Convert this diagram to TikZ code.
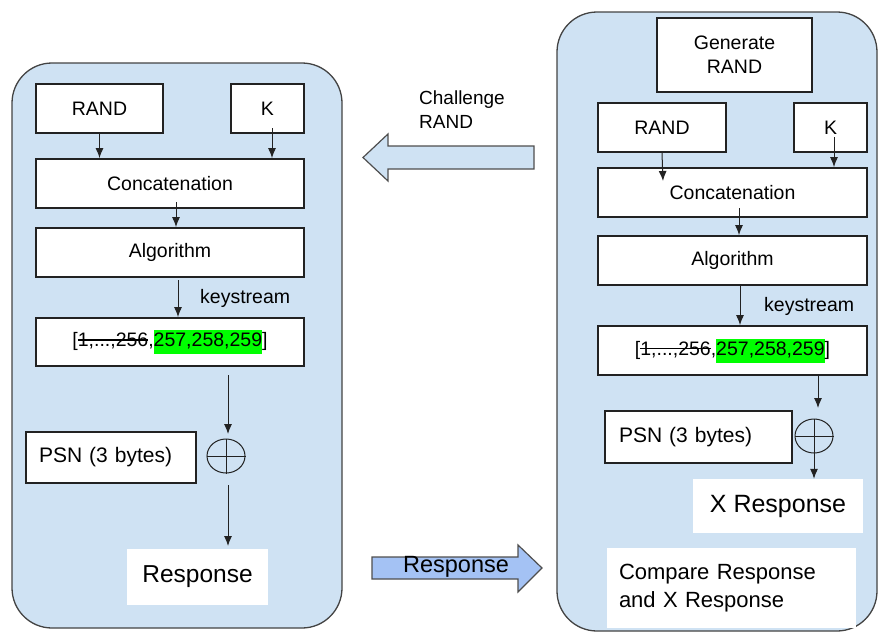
\documentclass[tikz,border=0pt]{standalone}
\usepackage{fontspec}
\setmainfont{Liberation Sans}
\usetikzlibrary{arrows.meta,shapes.geometric}
\definecolor{panelblue}{HTML}{CFE2F3}
\definecolor{respblue}{HTML}{A4C2F4}
\definecolor{hlgreen}{HTML}{00FF00}
\definecolor{edge}{HTML}{222222}
\newsavebox\strkbox
\newcommand\strk[1]{\sbox\strkbox{#1}\rlap{\rule[0.32em]{\wd\strkbox}{0.075em}}\usebox\strkbox}
\newcommand\hlg[1]{{\setlength{\fboxsep}{0pt}\colorbox{hlgreen}{\strut#1}}}
\newcommand\fs[2]{\fontsize{#1}{#2}\selectfont}
\begin{document}
\begin{tikzpicture}[x=1pt,y=-1pt,
  panel/.style={draw=edge!85, line width=1.3pt, fill=panelblue, rounded corners=40pt},
  blk/.style={draw=edge, line width=1.8pt, fill=white, inner sep=0pt, font=\fs{19.5}{24}},
  plain/.style={fill=white, inner sep=0pt},
  arr/.style={-{Latex[length=10pt,width=8pt]}, line width=1pt, draw=edge},
  xorc/.style={ellipse, draw=edge, line width=1pt, minimum width=38pt, minimum height=34pt, inner sep=0pt},
  bigarrow/.style={draw=edge!80, line width=1.2pt},
  lbl/.style={inner sep=0pt, font=\fs{19.5}{24}}
]
\useasboundingbox (0,0) rectangle (879,632);
% panels
\draw[panel] (12,63) rectangle (342,628);
\draw[panel] (557,12) rectangle (877,631);

% ---------- left panel ----------
\node[blk, minimum width=127pt, minimum height=49pt] (randL) at (99.5,108.5) {RAND};
\node[blk, minimum width=73pt, minimum height=49pt] (kL) at (267.5,108.5) {K};
\node[blk, minimum width=268pt, minimum height=49pt] (concL) at (170,183.5) {Concatenation};
\node[blk, minimum width=268pt, minimum height=49pt] (algL) at (170,252.5) {Algorithm};
\node[blk, minimum width=268pt, minimum height=48pt] (ksL) at (170,342) {[\strk{1,...,256},\hlg{257,258,259}]};
\node[lbl, anchor=west] (kslabL) at (200,298) {keystream};
\node[blk, minimum width=170pt, minimum height=51pt, text width=144pt, align=left, font=\fs{21}{24}] (psnL) at (111,457.5) {PSN (3 bytes)};
\node[xorc] (xorL) at (226,456) {};
\draw[line width=1pt, draw=edge] (xorL.north) -- (xorL.south) (xorL.west) -- (xorL.east);
\node[plain, minimum width=141pt, minimum height=56pt, font=\fs{24.5}{28}] (respL) at (197.5,577) {Response};

\coordinate (kLa) at (272,128);
\coordinate (cLa) at (176,202);
\coordinate (aLa) at (178,280);
\coordinate (kxL) at (228,375);
\coordinate (kxLb) at (228,434);
\coordinate (xrL) at (228,485);
\coordinate (xrLb) at (228,546);
\draw[arr] (randL.south) -- (randL.south |- concL.north);
\draw[arr] (kLa) -- (kLa |- concL.north);
\draw[arr] (cLa) -- (cLa |- algL.north);
\draw[arr] (aLa) -- (aLa |- ksL.north);
\draw[arr] (kxL) -- (kxLb);
\draw[arr] (xrL) -- (xrLb);

% ---------- right panel ----------
\node[blk, minimum width=155pt, minimum height=74pt, align=center] (genR) at (734.5,55) {Generate\\RAND};
\node[blk, minimum width=128pt, minimum height=49pt] (randR) at (662,127.5) {RAND};
\node[blk, minimum width=73pt, minimum height=49pt] (kR) at (830.5,127.5) {K};
\node[blk, minimum width=269pt, minimum height=49pt] (concR) at (732.5,192.5) {Concatenation};
\node[blk, minimum width=269pt, minimum height=49pt] (algR) at (732.5,260.5) {Algorithm};
\node[blk, minimum width=269pt, minimum height=49pt] (ksR) at (732.5,350.5) {[\strk{1,...,256},\hlg{257,258,259}]};
\node[lbl, anchor=west] (kslabR) at (764,306) {keystream};
\node[blk, minimum width=187pt, minimum height=52pt, text width=159pt, align=left, font=\fs{21}{24}] (psnR) at (698.5,437) {PSN (3 bytes)};
\node[xorc] (xorR) at (814,436) {};
\draw[line width=1pt, draw=edge] (xorR.north) -- (xorR.south) (xorR.west) -- (xorR.east);
\node[plain, minimum width=170pt, minimum height=54pt, font=\fs{25}{28}] (xrespR) at (778,506) {X Response};
\node[plain, minimum width=249pt, minimum height=80pt, text width=225pt, align=left, font=\fs{22}{28}] (cmpR) at (731.5,588) {Compare Response\\and X Response};

\coordinate (rRb) at (663,181);
\coordinate (kRa) at (834,137);
\coordinate (cRa) at (739,208);
\coordinate (aRa) at (740,285);
\coordinate (kxR) at (818,375);
\coordinate (kxRb) at (818,408);
\draw[arr] (randR.south) -- (rRb);
\draw[arr] (kRa) -- (kRa |- concR.north);
\draw[arr] (cRa) -- (cRa |- algR.north);
\draw[arr] (aRa) -- (aRa |- ksR.north);
\draw[arr] (kxR) -- (kxRb);
\draw[arr] (xorR.center) -- (xorR.center |- xrespR.north);

% ---------- message arrows ----------
\draw[bigarrow, fill=panelblue] (534,146) -- (388,146) -- (388,134) -- (363,157.5) -- (388,181) -- (388,169) -- (534,169) -- cycle;
\node[lbl, anchor=west, align=left, font=\fs{19}{24}] (chal) at (419,110) {Challenge\\RAND};
\draw[bigarrow, fill=respblue] (372,557) -- (518,557) -- (518,545) -- (542,568) -- (518,592) -- (518,579) -- (372,579) -- cycle;
\node[inner sep=0pt, font=\fs{23.5}{28}] (respmsg) at (456,567) {Response};
\end{tikzpicture}
\end{document}
